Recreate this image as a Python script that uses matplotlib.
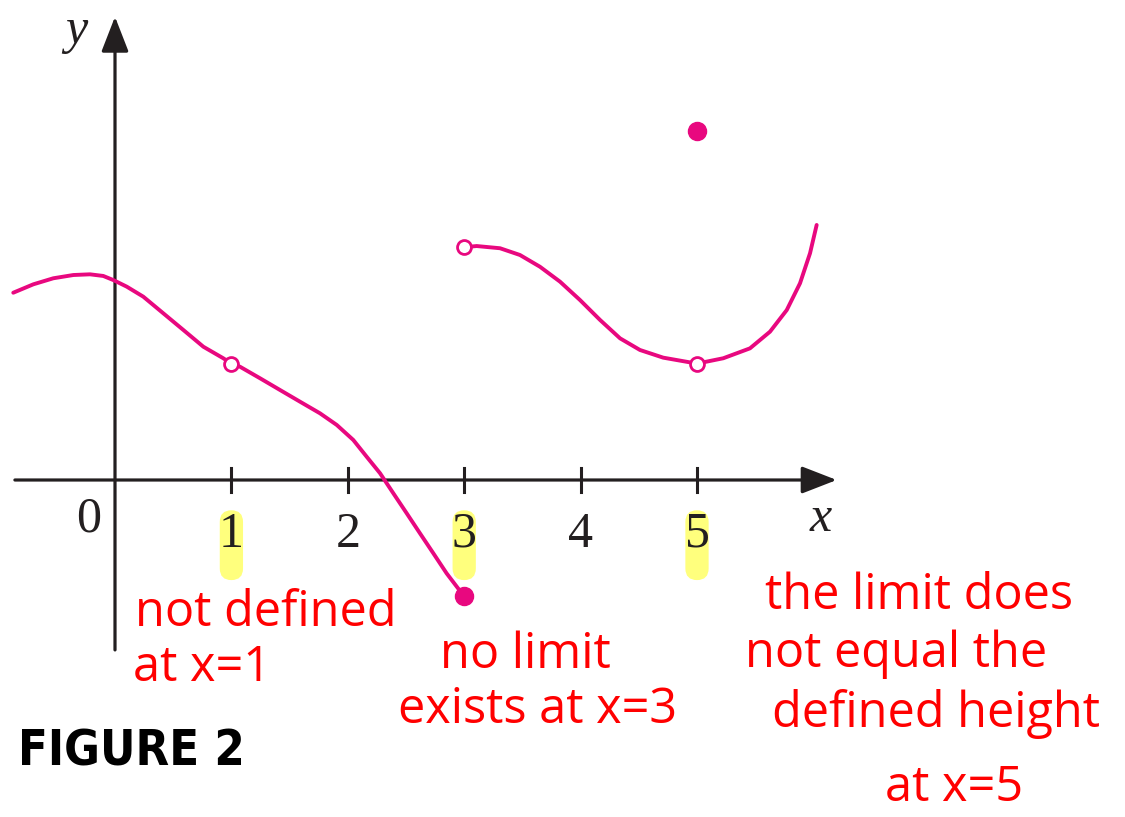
import matplotlib.pyplot as plt
from matplotlib.patches import FancyBboxPatch

# values (x, y in graph units)
left_x = [-0.874, -0.702, -0.530, -0.358, -0.215, -0.101, -0.015, 0.101, 0.243, 0.415,
          0.587, 0.759, 0.930, 1.0, 1.074, 1.246, 1.418, 1.589, 1.761, 1.905,
          2.047, 2.162, 2.277, 2.391, 2.506, 2.620, 2.735, 2.849, 3.0]
left_y = [1.609, 1.681, 1.733, 1.761, 1.767, 1.753, 1.718, 1.661, 1.575, 1.432,
          1.289, 1.145, 1.046, 1.0, 0.973, 0.874, 0.773, 0.673, 0.573, 0.473,
          0.344, 0.200, 0.058, -0.114, -0.286, -0.458, -0.630, -0.802, -1.0]
right_x = [3.0, 3.107, 3.308, 3.479, 3.651, 3.823, 3.995, 4.167, 4.339, 4.510,
           4.710, 5.0, 5.226, 5.455, 5.627, 5.771, 5.885, 5.971, 6.028]
right_y = [2.0, 2.010, 1.991, 1.933, 1.832, 1.704, 1.546, 1.375, 1.217, 1.117,
           1.051, 1.0, 1.046, 1.131, 1.274, 1.460, 1.690, 1.948, 2.191]

open_x = [1, 3, 5]
open_y = [1, 2, 1]
filled_x = [3, 5]
filled_y = [-1, 3]

tick_vals = [1, 2, 3, 4, 5]
highlight_ticks = [1, 3, 5]

note_texts = ["not defined", "at x=1", "no limit", "exists at x=3",
              "the limit does", "not equal the", "defined height", "at x=5"]

PINK = '#e8087f'
INK = '#231f20'
UNIT = 116.4  # pixels per unit

# where each note line sits (pixels from top-left)
note_layout = [(135, 613), (133, 668), (440, 655), (398, 710),
               (765, 596), (745, 654), (772, 714), (885, 788)]

fig = plt.figure(figsize=(11.25, 8.17), dpi=100)
ax = fig.add_axes([0, 0, 1, 1])
ax.set_xlim(-115 / UNIT, (1125 - 115) / UNIT)
ax.set_ylim((480 - 817) / UNIT, 480 / UNIT)
ax.axis('off')

# axes with arrows
arrow = dict(arrowstyle='-|>,head_length=0.9,head_width=0.35', lw=2.3, color=INK,
             mutation_scale=24, shrinkA=0, shrinkB=0)
ax.annotate('', xy=(6.2, 0), xytext=(-0.86, 0), arrowprops=arrow)
ax.annotate('', xy=(0, 3.98), xytext=(0, -1.46), arrowprops=arrow)

# highlights behind 1, 3, 5
for t in highlight_ticks:
    box = FancyBboxPatch((t - 0.06, -0.82), 0.12, 0.52,
                         boxstyle='round,pad=0.04,rounding_size=0.1',
                         fc='#ffff66', ec='none', alpha=0.85, zorder=1)
    ax.add_patch(box)

for t in tick_vals:
    ax.plot([t, t], [-0.1, 0.1], color=INK, lw=2.2, zorder=2)
    ax.text(t, -0.47, str(t), ha='center', va='center', fontsize=36,
            family='Liberation Serif', color=INK, zorder=3)
ax.text(-0.23, -0.34, '0', ha='center', va='center', fontsize=36,
        family='Liberation Serif', color=INK)
ax.text(6.06, -0.33, 'x', ha='center', va='center', fontsize=36,
        family='Liberation Serif', style='italic', color=INK)
ax.text(-0.33, 3.86, 'y', ha='center', va='center', fontsize=36,
        family='Liberation Serif', style='italic', color=INK)

# the graph
ax.plot(left_x, left_y, color=PINK, lw=2.8, solid_capstyle='round',
        solid_joinstyle='round', zorder=4)
ax.plot(right_x, right_y, color=PINK, lw=2.8, solid_capstyle='round',
        solid_joinstyle='round', zorder=4)
ax.plot(filled_x, filled_y, 'o', ms=13, color=PINK, zorder=5)
ax.plot(open_x, open_y, 'o', ms=10, mfc='white', mec=PINK, mew=2, zorder=5)

# handwritten notes
for txt, (px, py) in zip(note_texts, note_layout):
    fig.text(px / 1125, 1 - py / 817, txt, ha='left', va='center', fontsize=35,
             family='Open Sans', color='#ff0000')

fig.text(18 / 1125, 1 - 752 / 817, 'FIGURE 2', ha='left', va='center', fontsize=35,
         family='DejaVu Sans', fontstretch='condensed', weight='bold', color='black')

fig.savefig('out.png', dpi=100)
